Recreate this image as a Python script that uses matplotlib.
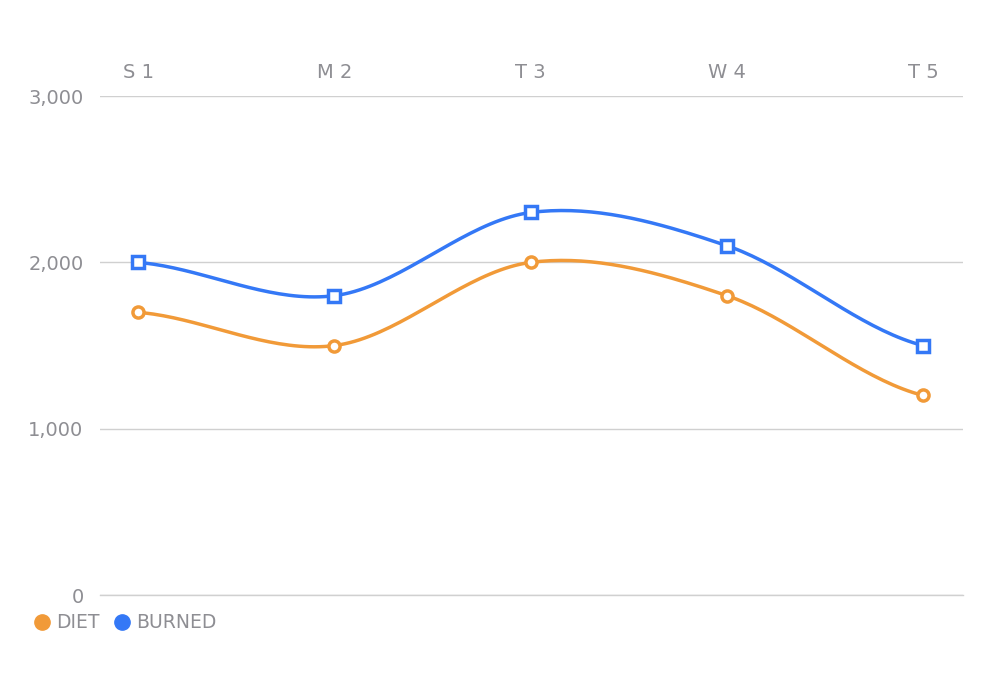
import numpy as np
import matplotlib.pyplot as plt
from matplotlib.lines import Line2D

days = ["S 1", "M 2", "T 3", "W 4", "T 5"]
diet = [1700, 1500, 2000, 1800, 1200]
burned = [2000, 1800, 2300, 2100, 1500]
yticks = [0, 1000, 2000, 3000]

ORANGE = "#f19a38"
BLUE = "#3478f6"
GRAY = "#8e8e93"


def catmull_rom(x, y, n=40):
    # smooth curve through the points (uniform catmull-rom)
    x = np.asarray(x, float)
    y = np.asarray(y, float)
    px = np.concatenate([[2 * x[0] - x[1]], x, [2 * x[-1] - x[-2]]])
    py = np.concatenate([[y[0]], y, [y[-1]]])
    xs, ys = [], []
    for i in range(1, len(px) - 2):
        t = np.linspace(0, 1, n)
        for p, out in ((px, xs), (py, ys)):
            p0, p1, p2, p3 = p[i - 1], p[i], p[i + 1], p[i + 2]
            out.extend(0.5 * ((2 * p1) + (-p0 + p2) * t
                              + (2 * p0 - 5 * p1 + 4 * p2 - p3) * t ** 2
                              + (-p0 + 3 * p1 - 3 * p2 + p3) * t ** 3))
    return np.array(xs), np.array(ys)


fig = plt.figure(figsize=(9.92, 6.96), dpi=100)
ax = fig.add_axes([0.101, 0.145, 0.87, 0.717])
x = np.arange(len(days))

for vals, color, marker in ((diet, ORANGE, "o"), (burned, BLUE, "s")):
    sx, sy = catmull_rom(x, vals)
    ax.plot(sx, sy, color=color, lw=2.5, zorder=3)
    ax.plot(x, vals, ls="none", marker=marker, ms=8, mfc="white",
            mec=color, mew=2.5, zorder=4)

ax.set_xlim(-0.194, 4.204)
ax.set_ylim(0, 3000)
ax.set_yticks(yticks)
ax.set_yticklabels([f"{v:,}" for v in yticks])
ax.set_xticks(x)
ax.set_xticklabels(days)
ax.xaxis.tick_top()
ax.tick_params(axis="both", length=0, labelcolor=GRAY, labelsize=14)
ax.tick_params(axis="x", pad=10)
ax.tick_params(axis="y", pad=12)
ax.grid(axis="y", color="#d0d0d0", lw=1)
ax.axhline(0, color="#d0d0d0", lw=1, clip_on=False, zorder=1)
for s in ax.spines.values():
    s.set_visible(False)

handles = [Line2D([], [], ls="none", marker="o", ms=11, color=ORANGE),
           Line2D([], [], ls="none", marker="o", ms=11, color=BLUE)]
fig.legend(handles, ["DIET", "BURNED"], loc="center left",
           bbox_to_anchor=(0.012, 0.105), ncol=2, frameon=False,
           handletextpad=0.05, columnspacing=0.5, handlelength=1.4,
           labelcolor=GRAY, prop={"size": 13.5})

fig.savefig("out.png", dpi=100, facecolor="white")
